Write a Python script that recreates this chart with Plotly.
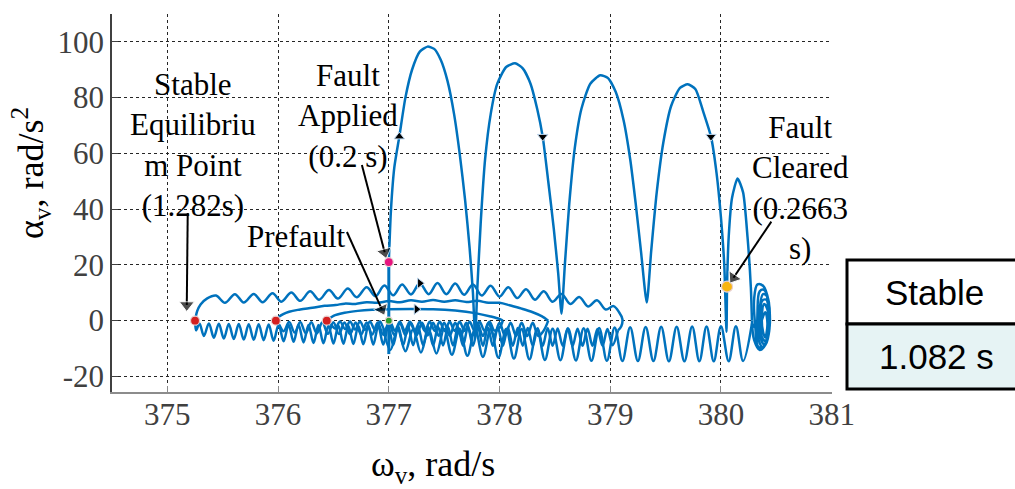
import plotly.graph_objects as go

# ---------------------------------------------------------------- data
# Trajectory of the virtual machine in the (omega_v, alpha_v) plane,
# stored as (omega [rad/s], alpha [rad/s^2]) vertices for each stretch.

FAULT_SPIKE = [(377.00, -12.0), (377.00, 21.0)]

FAULT_ARCHES = [
    (377.00, 21.0), (377.02, 40.0), (377.05, 55.0), (377.095, 66.0), (377.15, 80.0),
    (377.21, 90.0), (377.28, 96.5), (377.35, 98.3), (377.41, 97.5), (377.47, 93.5),
    (377.53, 86.0), (377.59, 74.0), (377.64, 60.0), (377.69, 43.0), (377.73, 26.0),
    (377.76, 10.0), (377.78, -6.0), (377.80, 12.0), (377.83, 35.0), (377.87, 58.0),
    (377.92, 74.0), (377.98, 85.0), (378.06, 91.0), (378.14, 92.3), (378.21, 90.5),
    (378.28, 85.0), (378.34, 76.0), (378.39, 66.0), (378.44, 50.0), (378.49, 33.0),
    (378.53, 17.0), (378.56, 2.5), (378.59, 20.0), (378.63, 42.0), (378.68, 62.0),
    (378.74, 76.0), (378.82, 85.0), (378.91, 88.0), (378.98, 87.0), (379.05, 82.0),
    (379.12, 72.0), (379.18, 58.0), (379.23, 42.0), (379.28, 24.0), (379.33, 6.5),
    (379.37, 25.0), (379.42, 46.0), (379.48, 64.0), (379.55, 77.0), (379.63, 83.5),
    (379.70, 84.8), (379.77, 83.0), (379.84, 75.0), (379.91, 66.0), (379.96, 53.0),
    (380.00, 37.0), (380.03, 20.0), (380.05, -4.0), (380.055, 12.2), (380.07, 30.0),
    (380.10, 44.0), (380.15, 51.0), (380.20, 46.0), (380.24, 30.0), (380.27, 12.0),
    (380.28, 0.0),
]

RIGHT_COIL = [
    (380.28, 0.0), (380.30, -7.0), (380.35, -10.5), (380.41, -8.0), (380.44, -1.0),
    (380.43, 7.0), (380.38, 12.5), (380.33, 13.0), (380.30, 8.0), (380.31, -2.0),
    (380.34, -9.5), (380.40, -8.8), (380.44, -2.0), (380.43, 6.0), (380.39, 11.0),
    (380.35, 10.5), (380.33, 3.0), (380.34, -7.0), (380.38, -9.5), (380.43, -5.0),
    (380.44, 2.0), (380.42, 8.5), (380.38, 9.5), (380.35, 4.0), (380.35, -5.0),
    (380.39, -8.5), (380.43, -3.5), (380.43, 3.0), (380.41, 7.5), (380.37, 7.0),
    (380.36, 0.0), (380.37, -6.0), (380.41, -7.5), (380.435, -2.0), (380.42, 4.0),
    (380.39, 6.0), (380.37, 2.0), (380.38, -4.0), (380.40, -6.0), (380.42, -1.0),
    (380.40, 3.0), (380.33, -3.0), (380.28, -1.0),
]

LOWER_LOOPS = [
    (380.28, -1.0), (380.20, -14.5), (380.135, -2.0), (380.07, -14.6), (380.00, -2.0),
    (379.935, -14.6), (379.87, -2.1), (379.805, -14.6), (379.74, -2.1), (379.67, -14.6),
    (379.60, -2.2), (379.53, -14.6), (379.46, -2.2), (379.39, -14.5), (379.32, -2.3),
    (379.25, -14.5), (379.18, -2.4), (379.11, -14.5), (379.04, -2.5), (378.97, -14.4),
    (378.90, -2.6), (378.83, -14.4), (378.76, -2.7), (378.69, -14.3), (378.62, -2.8),
    (378.55, -14.2), (378.48, -2.9), (378.41, -14.1), (378.34, -3.0), (378.27, -13.9),
    (378.20, -3.0), (378.13, -13.6), (378.06, -3.0), (377.99, -13.3), (377.92, -3.0),
    (377.85, -13.0), (377.78, -3.0), (377.71, -12.6), (377.64, -3.0), (377.57, -12.2),
    (377.50, -3.0), (377.43, -11.8), (377.36, -3.0), (377.29, -11.4), (377.22, -3.0),
    (377.15, -11.0), (377.08, -3.0), (377.015, -10.5), (376.95, -3.0),
]

OUTER_TOP = [
    (375.25, 0.0), (375.27, 3.5), (375.30, 5.8), (375.36, 8.0), (375.44, 9.0),
    (375.52, 6.4), (375.61, 9.5), (375.69, 6.5), (375.78, 9.6), (375.86, 6.6),
    (375.95, 9.8), (376.03, 6.8), (376.12, 10.1), (376.20, 7.1), (376.29, 10.5),
    (376.37, 7.5), (376.46, 11.0), (376.54, 7.9), (376.63, 11.5), (376.71, 8.4),
    (376.80, 12.0), (376.88, 8.8), (376.96, 12.6), (377.04, 9.1), (377.12, 13.0),
    (377.20, 9.4), (377.28, 13.4), (377.36, 9.5), (377.44, 13.5), (377.52, 9.5),
    (377.60, 13.3), (377.68, 9.3), (377.76, 13.0), (377.84, 9.0), (377.92, 12.5),
    (378.00, 8.6), (378.08, 12.0), (378.16, 8.1), (378.24, 11.3), (378.32, 7.5),
    (378.40, 10.5), (378.48, 6.8), (378.56, 9.6), (378.64, 6.0), (378.72, 8.5),
    (378.80, 5.1), (378.88, 7.3), (378.96, 4.0), (379.03, 5.2), (379.08, 3.0),
    (379.11, 0.5), (379.10, -2.0), (379.07, -3.5),
]

OUTER_BOTTOM = [
    (379.07, -3.5), (379.02, -8.8), (378.975, -3.0), (378.93, -9.0), (378.885, -3.0),
    (378.84, -9.0), (378.795, -2.9), (378.75, -9.0), (378.705, -2.9), (378.66, -9.0),
    (378.615, -2.8), (378.57, -9.0), (378.525, -2.8), (378.48, -9.0), (378.435, -2.7),
    (378.39, -9.0), (378.345, -2.7), (378.30, -9.0), (378.255, -2.6), (378.21, -9.0),
    (378.165, -2.6), (378.12, -9.0), (378.075, -2.5), (378.03, -9.0), (377.985, -2.5),
    (377.94, -9.0), (377.895, -2.5), (377.85, -9.0), (377.805, -2.4), (377.76, -9.0),
    (377.715, -2.4), (377.67, -9.0), (377.625, -2.3), (377.58, -8.9), (377.535, -2.3),
    (377.49, -8.9), (377.445, -2.2), (377.40, -8.9), (377.355, -2.2), (377.31, -8.8),
    (377.265, -2.1), (377.22, -8.8), (377.175, -2.1), (377.13, -8.7), (377.085, -2.0),
    (377.04, -8.7), (376.995, -2.0), (376.95, -8.6), (376.905, -1.9), (376.86, -8.6),
    (376.815, -1.9), (376.77, -8.5), (376.725, -1.8), (376.68, -8.4), (376.635, -1.8),
    (376.59, -8.3), (376.545, -1.7), (376.50, -8.2), (376.455, -1.7), (376.41, -8.1),
    (376.365, -1.6), (376.32, -8.0), (376.275, -1.6), (376.23, -7.8), (376.185, -1.5),
    (376.14, -7.6), (376.095, -1.5), (376.05, -7.4), (376.005, -1.4), (375.96, -7.2),
    (375.915, -1.4), (375.87, -7.0), (375.825, -1.3), (375.78, -6.9), (375.735, -1.3),
    (375.69, -6.8), (375.645, -1.2), (375.60, -6.6), (375.555, -1.2), (375.51, -6.4),
    (375.465, -1.1), (375.42, -6.1), (375.375, -1.0), (375.33, -5.5), (375.29, -1.0),
    (375.26, -3.5), (375.25, 0.0),
]

MIDDLE_TOP = [
    (375.98, 0.0), (376.01, 1.5), (376.10, 3.2), (376.20, 4.0), (376.31, 4.6),
    (376.42, 5.3), (376.52, 5.6), (376.60, 6.1), (376.70, 6.0), (376.80, 6.6),
    (376.90, 6.4), (377.00, 7.0), (377.10, 6.6), (377.20, 7.3), (377.30, 6.8),
    (377.40, 7.4), (377.50, 6.8), (377.60, 7.3), (377.70, 6.7), (377.80, 7.1),
    (377.90, 6.4), (378.00, 6.4), (378.10, 5.4), (378.20, 4.3), (378.30, 3.0),
    (378.38, 1.6), (378.44, 0.0),
]

MIDDLE_BOTTOM = [
    (378.44, 0.0), (378.40, -3.5), (378.35, -5.5), (378.30, -0.8), (378.25, -5.5),
    (378.20, -0.8), (378.15, -5.5), (378.10, -0.8), (378.05, -5.5), (378.00, -0.8),
    (377.95, -5.5), (377.90, -0.8), (377.85, -5.5), (377.80, -0.8), (377.75, -5.5),
    (377.70, -0.8), (377.65, -5.5), (377.60, -0.8), (377.55, -5.4), (377.50, -0.8),
    (377.45, -5.4), (377.40, -0.8), (377.35, -5.3), (377.30, -0.8), (377.25, -5.3),
    (377.20, -0.8), (377.15, -5.2), (377.10, -0.8), (377.05, -5.2), (377.00, -0.8),
    (376.95, -5.1), (376.90, -0.7), (376.85, -5.0), (376.80, -0.7), (376.75, -5.0),
    (376.70, -0.7), (376.65, -4.9), (376.60, -0.7), (376.55, -4.8), (376.50, -0.6),
    (376.45, -4.7), (376.40, -0.6), (376.35, -4.6), (376.30, -0.6), (376.25, -4.5),
    (376.20, -0.5), (376.15, -4.3), (376.10, -0.5), (376.05, -3.8), (376.01, -1.5),
    (375.98, 0.0),
]

INNER_TOP = [
    (376.44, 0.0), (376.50, 1.7), (376.60, 2.8), (376.72, 3.5), (376.85, 3.9),
    (377.00, 4.1), (377.20, 4.2), (377.40, 4.1), (377.60, 3.6), (377.78, 2.7),
    (377.92, 1.5), (378.00, 0.6), (378.03, 0.0),
]

INNER_BOTTOM = [
    (378.03, 0.0), (378.00, -2.6), (377.955, -3.6), (377.91, -0.4), (377.865, -3.7),
    (377.82, -0.4), (377.775, -3.7), (377.73, -0.4), (377.685, -3.7), (377.64, -0.4),
    (377.595, -3.7), (377.55, -0.4), (377.505, -3.7), (377.46, -0.4), (377.415, -3.7),
    (377.37, -0.4), (377.325, -3.7), (377.28, -0.4), (377.235, -3.6), (377.19, -0.4),
    (377.145, -3.6), (377.10, -0.4), (377.055, -3.6), (377.01, -0.4), (376.965, -3.5),
    (376.92, -0.3), (376.875, -3.4), (376.83, -0.3), (376.785, -3.3), (376.74, -0.3),
    (376.695, -3.2), (376.65, -0.3), (376.605, -3.0), (376.56, -0.3), (376.515, -2.8),
    (376.47, -1.0), (376.44, 0.0),
]

# Event points marked on the trajectory
EQUILIBRIUM_PTS = [(375.25, 0.0), (375.98, 0.0), (376.44, 0.0)]
PREFAULT_PT = (377.00, 0.0)
FAULT_APPLIED_PT = (377.00, 21.0)
FAULT_CLEARED_PT = (380.055, 12.2)

# Direction-of-travel arrowheads along the path
DIRECTION_MARKS = [
    (377.095, 66.0, "triangle-up"),
    (378.39, 66.0, "triangle-down"),
    (379.91, 66.0, "triangle-down"),
    (377.28, 13.4, "triangle-right"),
    (377.25, 4.1, "triangle-right"),
]

# Callout pointers: (tail, head) in data units
POINTERS = [
    ((375.184, 38.6), (375.175, 3.8)),
    ((376.757, 55.8), (376.974, 22.8)),
    ((376.622, 31.8), (376.956, 2.4)),
    ((380.455, 35.5), (380.088, 13.9)),
]

X_TICKS = [375, 376, 377, 378, 379, 380, 381]
Y_TICKS = [-20, 0, 20, 40, 60, 80, 100]
Y_TICK_TEXT = ["-20", "0", "20", "40", "60", "80", "100"]

RESULT_HEADER = "Stable"
RESULT_TIME = "1.082 s"

# ---------------------------------------------------------------- figure
BLUE = "#0072BD"
SERIF = "Liberation Serif, Times New Roman, serif"
SANS = "Liberation Sans, Arial, sans-serif"

fig = go.Figure()


def add_path(points, shape="spline", smoothing=1.0, width=2.5):
    fig.add_trace(go.Scatter(
        x=[p[0] for p in points], y=[p[1] for p in points], mode="lines",
        line=dict(color=BLUE, width=width, shape=shape, smoothing=smoothing),
        hoverinfo="skip", showlegend=False))


for seg in (OUTER_BOTTOM, MIDDLE_BOTTOM, INNER_BOTTOM, LOWER_LOOPS,
            OUTER_TOP, MIDDLE_TOP, INNER_TOP, RIGHT_COIL):
    add_path(seg)
add_path(FAULT_SPIKE, shape="linear", width=3)
add_path(FAULT_ARCHES, smoothing=0.6)

# direction arrowheads
for w, a, sym in DIRECTION_MARKS:
    fig.add_trace(go.Scatter(
        x=[w], y=[a], mode="markers",
        marker=dict(symbol=sym, size=9, color="black",
                    line=dict(color="#bcd6ee", width=1)),
        hoverinfo="skip", showlegend=False))


def add_dot(pts, color, size):
    fig.add_trace(go.Scatter(
        x=[p[0] for p in pts], y=[p[1] for p in pts], mode="markers",
        marker=dict(size=size, color=color, line=dict(color="#e8d0d0", width=1.2)),
        hoverinfo="skip", showlegend=False))


add_dot(EQUILIBRIUM_PTS, "#d42020", 9)
add_dot([PREFAULT_PT], "#2ca02c", 7)
add_dot([FAULT_APPLIED_PT], "#e6157f", 9)
add_dot([FAULT_CLEARED_PT], "#f7b512", 11)

# callout pointer lines with arrowheads
for (tx, ty), (hx, hy) in POINTERS:
    fig.add_trace(go.Scatter(
        x=[tx, hx], y=[ty, hy], mode="lines+markers",
        line=dict(color="black", width=2),
        marker=dict(symbol="triangle-up", size=[0, 13], color="black",
                    angleref="previous", standoff=5),
        hoverinfo="skip", showlegend=False, cliponaxis=False))

# ---------------------------------------------------------------- axes
axis_common = dict(
    showgrid=True, gridcolor="#262626", griddash="dot", gridwidth=1,
    zeroline=False, showline=True, ticks="inside", ticklen=6,
    tickfont=dict(family=SERIF, size=31, color="#404040"),
)
fig.update_xaxes(range=[374.5, 381.003], tickvals=X_TICKS,
                 linecolor="#8c8c8c", tickcolor="#8c8c8c", linewidth=1.5,
                 ticklabelstandoff=-6, **axis_common)
fig.update_yaxes(range=[-25.6, 110], tickvals=Y_TICKS, ticktext=Y_TICK_TEXT,
                 linecolor="#404040", tickcolor="#404040", linewidth=1.5,
                 **axis_common)

# ---------------------------------------------------------------- text
PLOT_L, PLOT_R, PLOT_T, PLOT_B = 112, 832, 14, 392


def px_to_paper(px, py):
    return ((px - PLOT_L) / (PLOT_R - PLOT_L), (PLOT_B - py) / (PLOT_B - PLOT_T))


def add_text(text, px, py, size=31, family=SERIF, angle=0, color="black"):
    x, y = px_to_paper(px, py)
    fig.add_annotation(text=text, x=x, y=y, xref="paper", yref="paper",
                       showarrow=False, xanchor="center", yanchor="middle",
                       textangle=angle, font=dict(family=family, size=size, color=color))


add_text("ω<sub>v</sub>, rad/s", 433, 466, size=36)
add_text("α<sub>v</sub>, rad/s<sup>2</sup>", 31, 173, size=36, angle=-90)

add_text("Stable<br>Equilibriu<br>m Point<br>(1.282s)", 193, 145)
add_text("Fault<br>Applied<br>(0.2 s)", 348, 116)
add_text("Prefault", 296, 236)
add_text("Fault<br>Cleared<br>(0.2663<br>s)", 800, 188)

# ---------------------------------------------------------------- result box
bx0, by_bot = px_to_paper(847, 389)
bx1, by_mid = px_to_paper(1030, 324)
_, by_top = px_to_paper(847, 260)
fig.add_shape(type="rect", xref="paper", yref="paper", x0=bx0, x1=bx1,
              y0=by_mid, y1=by_top, fillcolor="white",
              line=dict(color="black", width=3))
fig.add_shape(type="rect", xref="paper", yref="paper", x0=bx0, x1=bx1,
              y0=by_bot, y1=by_mid, fillcolor="#e6f3f4",
              line=dict(color="black", width=3))
add_text(RESULT_HEADER, 934, 292, size=35, family=SANS)
add_text(RESULT_TIME, 936, 356, size=35, family=SANS)

fig.update_layout(
    width=1015, height=489,
    margin=dict(l=PLOT_L, r=1015 - PLOT_R, t=PLOT_T, b=489 - PLOT_B),
    paper_bgcolor="white", plot_bgcolor="white",
    showlegend=False,
)

fig.write_html("out.html")
